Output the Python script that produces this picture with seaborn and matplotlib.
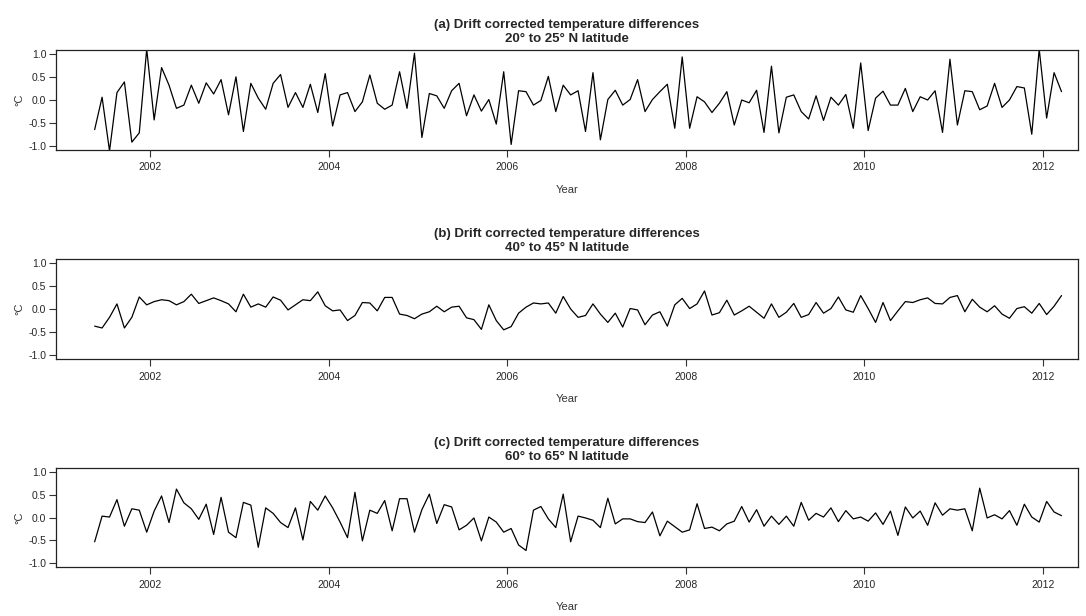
import numpy as np
import pandas as pd
import matplotlib
matplotlib.use('Agg')
import matplotlib.pyplot as plt
import seaborn as sns

# Monthly drift corrected differences, May 2001 to March 2012 (plotted mid-month)
first_year, first_month = 2001, 5

lat_20_25 = [
    -0.64, 0.06, -1.10, 0.16, 0.39, -0.91, -0.71, 1.10, -0.43, 0.70,
    0.32, -0.18, -0.11, 0.32, -0.07, 0.37, 0.13, 0.44, -0.32, 0.50,
    -0.68, 0.36, 0.04, -0.20, 0.36, 0.55, -0.16, 0.16, -0.16, 0.34,
    -0.27, 0.57, -0.56, 0.11, 0.16, -0.25, -0.04, 0.54, -0.07, -0.20,
    -0.11, 0.61, -0.18, 1.01, -0.81, 0.14, 0.09, -0.18, 0.20, 0.36,
    -0.34, 0.11, -0.24, 0.01, -0.52, 0.61, -0.96, 0.20, 0.18, -0.11,
    -0.01, 0.51, -0.25, 0.32, 0.11, 0.20, -0.68, 0.59, -0.86, 0.01,
    0.21, -0.11, 0.01, 0.44, -0.25, 0.01, 0.18, 0.34, -0.61, 0.93,
    -0.61, 0.07, -0.04, -0.27, -0.07, 0.18, -0.54, 0.00, -0.06, 0.21,
    -0.70, 0.73, -0.71, 0.06, 0.11, -0.25, -0.41, 0.09, -0.44, 0.06,
    -0.11, 0.12, -0.61, 0.80, -0.66, 0.04, 0.19, -0.11, -0.11, 0.25,
    -0.25, 0.07, 0.00, 0.20, -0.70, 0.88, -0.54, 0.20, 0.18, -0.21,
    -0.13, 0.36, -0.16, 0.00, 0.29, 0.26, -0.74, 1.10, -0.39, 0.59,
    0.18,
]

lat_40_45 = [
    -0.37, -0.41, -0.18, 0.11, -0.41, -0.18, 0.26, 0.09, 0.16, 0.20,
    0.18, 0.09, 0.16, 0.32, 0.12, 0.18, 0.24, 0.18, 0.11, -0.06,
    0.32, 0.04, 0.11, 0.04, 0.26, 0.19, -0.02, 0.09, 0.20, 0.18,
    0.37, 0.07, -0.04, -0.02, -0.25, -0.14, 0.14, 0.13, -0.04, 0.25,
    0.25, -0.11, -0.14, -0.21, -0.11, -0.06, 0.06, -0.06, 0.04, 0.06,
    -0.19, -0.23, -0.44, 0.09, -0.25, -0.45, -0.38, -0.09, 0.04, 0.13,
    0.11, 0.13, -0.09, 0.27, 0.00, -0.18, -0.14, 0.11, -0.11, -0.29,
    -0.09, -0.39, 0.01, -0.02, -0.34, -0.13, -0.06, -0.37, 0.09, 0.23,
    0.01, 0.11, 0.39, -0.13, -0.08, 0.19, -0.13, -0.04, 0.06, -0.07,
    -0.20, 0.11, -0.18, -0.07, 0.12, -0.18, -0.12, 0.14, -0.09, 0.01,
    0.26, -0.02, -0.07, 0.29, 0.01, -0.29, 0.14, -0.25, -0.04, 0.16,
    0.14, 0.20, 0.24, 0.12, 0.11, 0.25, 0.29, -0.06, 0.21, 0.04,
    -0.06, 0.07, -0.11, -0.20, 0.01, 0.05, -0.09, 0.12, -0.12, 0.06,
    0.29,
]

lat_60_65 = [
    -0.53, 0.03, 0.01, 0.39, -0.19, 0.19, 0.16, -0.32, 0.14, 0.47,
    -0.11, 0.62, 0.32, 0.19, -0.04, 0.29, -0.37, 0.44, -0.32, -0.44,
    0.33, 0.27, -0.65, 0.21, 0.09, -0.11, -0.22, 0.21, -0.49, 0.35,
    0.16, 0.47, 0.21, -0.10, -0.44, 0.55, -0.51, 0.16, 0.09, 0.37,
    -0.29, 0.41, 0.41, -0.32, 0.17, 0.51, -0.13, 0.28, 0.23, -0.27,
    -0.17, -0.01, -0.51, 0.01, -0.10, -0.32, -0.24, -0.60, -0.72, 0.16,
    0.24, -0.03, -0.22, 0.51, -0.53, 0.03, -0.01, -0.06, -0.22, 0.42,
    -0.14, -0.03, -0.03, -0.09, -0.11, 0.12, -0.40, -0.08, -0.20, -0.32,
    -0.27, 0.30, -0.24, -0.21, -0.29, -0.14, -0.08, 0.24, -0.10, 0.17,
    -0.19, 0.03, -0.15, 0.03, -0.19, 0.33, -0.06, 0.09, 0.01, 0.21,
    -0.09, 0.15, -0.03, 0.01, -0.08, 0.10, -0.15, 0.14, -0.39, 0.23,
    -0.01, 0.14, -0.17, 0.32, 0.05, 0.19, 0.16, 0.19, -0.29, 0.64,
    -0.01, 0.06, -0.03, 0.15, -0.17, 0.29, 0.01, -0.10, 0.35, 0.12,
    0.04,
]

titles = [
    "(a) Drift corrected temperature differences\n20\u00b0 to 25\u00b0 N latitude",
    "(b) Drift corrected temperature differences\n40\u00b0 to 45\u00b0 N latitude",
    "(c) Drift corrected temperature differences\n60\u00b0 to 65\u00b0 N latitude",
]
series = [lat_20_25, lat_40_45, lat_60_65]

x_ticks = [2002, 2004, 2006, 2008, 2010, 2012]
y_ticks = [-1.0, -0.5, 0.0, 0.5, 1.0]

sns.set_style("ticks")
plt.rcParams['font.family'] = ['Liberation Sans', 'DejaVu Sans']

W, H = 1086, 616
fig = plt.figure(figsize=(W / 100, H / 100), dpi=100)

# axes boxes in pixels: (left, top, right, bottom)
boxes = [(56, 50, 1078, 150), (56, 259, 1078, 359), (56, 468, 1078, 567)]

for vals, title, (l, t, r, b) in zip(series, titles, boxes):
    n = len(vals)
    months = first_month - 1 + np.arange(n)
    df = pd.DataFrame({
        'year': first_year + (months + 0.5) / 12.0,
        'temp': vals,
    })
    ax = fig.add_axes([l / W, 1 - b / H, (r - l) / W, (b - t) / H])
    sns.lineplot(data=df, x='year', y='temp', ax=ax, color='black', linewidth=0.9)
    ax.set_xlim(2000.942, 2000.942 + (r - l) / 89.25)
    ax.set_ylim(-1.08, 1.08)
    ax.set_xticks(x_ticks)
    ax.set_xticklabels([str(v) for v in x_ticks])
    ax.set_yticks(y_ticks)
    ax.set_yticklabels([f"{v:.1f}" for v in y_ticks])
    ax.tick_params(axis='both', labelsize=7.5, length=5, width=0.8, color='#333333')
    ax.tick_params(axis='x', pad=4)
    ax.tick_params(axis='y', pad=2)
    for sp in ax.spines.values():
        sp.set_linewidth(0.9)
        sp.set_color('#222222')
    ax.set_xlabel('Year', fontsize=8, color='#333333', labelpad=9)
    ax.set_ylabel('\u00b0C', fontsize=8, color='#333333', labelpad=3)
    ax.set_title(title, fontsize=9.5, fontweight='bold', pad=6, linespacing=1.15)

fig.savefig('out.png', dpi=100)
